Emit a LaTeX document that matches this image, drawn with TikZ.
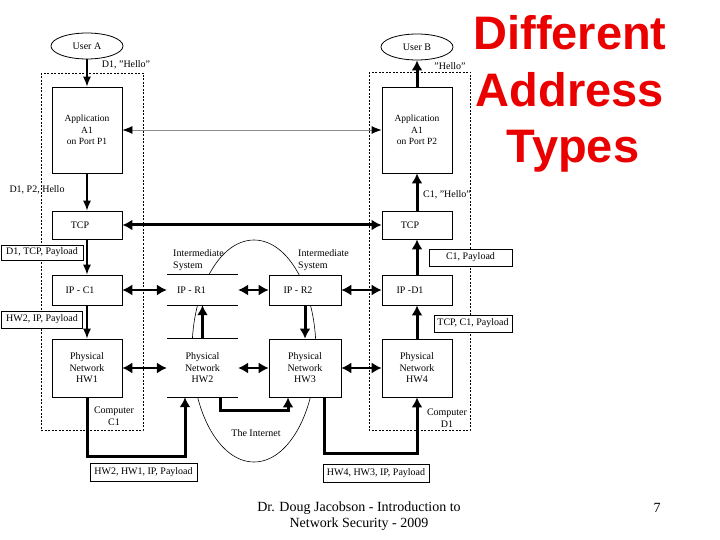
\documentclass[tikz,border=0pt]{standalone}
\usepackage{fontspec}
\setmainfont{Liberation Serif}
\newfontfamily\titlefont{Liberation Sans}
\usetikzlibrary{arrows.meta,shapes.geometric}
\begin{document}
\begin{tikzpicture}[x=1pt,y=-1pt,
  every node/.style={inner sep=0pt},
  box/.style={draw, fill=white, line width=0.8pt, align=center, font=\fontsize{10}{11.5}\selectfont},
  openbox/.style={fill=white, align=center, font=\fontsize{10}{11.5}\selectfont},
  appbox/.style={box, font=\fontsize{9.5}{11.5}\selectfont, minimum width=70pt, minimum height=86pt},
  shl/.style={execute at begin node={\hspace*{-14pt}}},
  shll/.style={execute at begin node={\hspace*{-22pt}}},
  user/.style={draw, ellipse, fill=white, line width=0.8pt, minimum width=72pt, minimum height=26pt, font=\fontsize{10}{12}\selectfont},
  lbl/.style={font=\fontsize{10}{12}\selectfont},
  tagbox/.style={draw, fill=white, line width=0.8pt, font=\fontsize{10}{12}\selectfont},
  dashbox/.style={draw, line width=0.8pt, dash pattern=on 2pt off 1.5pt},
  tarr/.style={line width=1.2pt, -{Latex[length=10pt,width=8pt]}},
  karr/.style={line width=3pt, -{Latex[length=10pt,width=11pt]}},
  darr/.style={line width=1.5pt, {Latex[length=10pt,width=11pt]}-{Latex[length=10pt,width=11pt]}},
  kdarr/.style={line width=3pt, {Latex[length=10pt,width=11pt]}-{Latex[length=10pt,width=11pt]}},
  garr/.style={line width=0.8pt, draw=black!45, {Latex[length=10pt,width=8pt,color=black]}-{Latex[length=10pt,width=8pt,color=black]}},
  title/.style={font=\titlefont\bfseries\fontsize{47}{56}\selectfont, text={rgb,255:red,235;green,0;blue,0}, anchor=base},
  foot/.style={font=\fontsize{14}{16}\selectfont}
]
\useasboundingbox (0,0) rectangle (720,540);
\fill[white] (0,0) rectangle (720,540);

% background frames
\node[draw, ellipse, line width=0.6pt, minimum width=124pt, minimum height=222pt] (inet) at (254,351) {};
\draw[dashbox] (41,73) rectangle (143,430);
\draw[dashbox] (369,72) rectangle (470,430);

% users
\node[user] (ua) at (87,46) {User A};
\node[user] (ub) at (417,47) {User B};

% computer C1 column
\node[appbox] (appa) at (87,130) {Application\\A1\\on Port P1};
\node[box, shl, minimum width=70pt, minimum height=28pt] (tcpa) at (87,225) {TCP};
\node[box, shl, minimum width=70pt, minimum height=30pt] (ipc1) at (87,290) {IP - C1};
\node[box, minimum width=70pt, minimum height=58pt] (hw1) at (87,368) {Physical\\Network\\HW1};

% computer D1 column
\node[appbox] (appb) at (417,130) {Application\\A1\\on Port P2};
\node[box, shl, minimum width=70pt, minimum height=28pt] (tcpb) at (417,225) {TCP};
\node[box, shl, minimum width=70pt, minimum height=30pt] (ipd1) at (417,290) {IP -D1};
\node[box, minimum width=70pt, minimum height=58pt] (hw4) at (417,368) {Physical\\Network\\HW4};

% intermediate systems
\node[openbox, shll, minimum width=71pt, minimum height=30pt] (ipr1) at (202.5,290) {IP - R1};
\draw[line width=0.8pt] (ipr1.north west) -- (ipr1.north east) (ipr1.south west) -- (ipr1.south east);
\node[openbox, minimum width=71pt, minimum height=58pt] (hw2) at (202.5,368) {Physical\\Network\\HW2};
\draw[line width=0.8pt] (hw2.north west) -- (hw2.north east) (hw2.south west) -- (hw2.south east);
\node[box, shl, minimum width=72pt, minimum height=30pt] (ipr2) at (305,290) {IP - R2};
\node[box, minimum width=72pt, minimum height=58pt] (hw3) at (305,368) {Physical\\Network\\HW3};

\node[lbl, align=left, anchor=north west] (is1) at (173,249) {Intermediate\\System};
\node[lbl, align=left, anchor=north west] (is2) at (298,249) {Intermediate\\System};

% vertical arrows
\draw[tarr] (ua) -- (appa);
\draw[tarr] (appa) -- (tcpa);
\draw[tarr] (tcpa) -- (ipc1);
\draw[tarr] (ipc1) -- (hw1);
\draw[karr] (appb) -- (ub);
\draw[karr] (tcpb) -- (appb);
\draw[karr] (ipd1) -- (tcpb);
\draw[karr] (hw4) -- (ipd1);
\draw[karr] (hw2.north) -- (ipr1.south);
\draw[karr] (ipr2.south) -- (hw3.north);

% horizontal arrows
\draw[garr] (appa) -- (appb);
\draw[kdarr] (tcpa) -- (tcpb);
\draw[darr] (ipc1) -- (ipr1);
\draw[darr] (ipr1) -- (ipr2);
\draw[darr] (ipr2) -- (ipd1);
\draw[darr] (hw1) -- (hw2);
\draw[darr] (hw2) -- (hw3);
\draw[darr] (hw3) -- (hw4);

% bottom paths
\draw[karr] (hw1.south) -- ++(0,59) -| ([xshift=-17.5pt]hw2.south);
\draw[karr] ([xshift=17.5pt]hw2.south) -- ++(0,13) -| ([xshift=-17pt]hw3.south);
\draw[karr] ([xshift=19pt]hw3.south) -- ++(0,56) -| (hw4.south);

% labels
\node[lbl] (l1) at (126,65) {D1, "Hello"};
\node[lbl] (l2) at (450,66) {"Hello"};
\node[lbl] (l3) at (37,190) {D1, P2, Hello};
\node[lbl] (l4) at (447,195) {C1, "Hello"};
\node[tagbox, minimum width=82pt, minimum height=15pt] (t1) at (42,252.5) {D1, TCP, Payload};
\node[tagbox, minimum width=81pt, minimum height=17pt] (t2) at (42,319.5) {HW2, IP, Payload};
\node[tagbox, minimum width=83pt, minimum height=17pt] (t3) at (470.5,257.5) {C1, Payload};
\node[tagbox, minimum width=78pt, minimum height=17pt] (t4) at (473,323.5) {TCP, C1, Payload};
\node[tagbox, minimum width=107pt, minimum height=18pt] (t5) at (143.5,472) {HW2, HW1, IP, Payload};
\node[tagbox, minimum width=106pt, minimum height=18pt] (t6) at (376,473) {HW4, HW3, IP, Payload};
\node[lbl, align=center] (cc1) at (114,416) {Computer\\C1};
\node[lbl, align=center] (cd1) at (447,418) {Computer\\D1};
\node[lbl] (net) at (256,433) {The Internet};

% title
\node[title] (ti1) at (570,50) {Different};
\node[title] (ti2) at (570,107) {Address};
\node[title] (ti3) at (573,163) {Types};

% footer
\node[foot, align=center] (ft) at (359,516) {Dr. Doug Jacobson - Introduction to\\Network Security - 2009};
\node[foot] (pg) at (657,508) {7};
\end{tikzpicture}
\end{document}
